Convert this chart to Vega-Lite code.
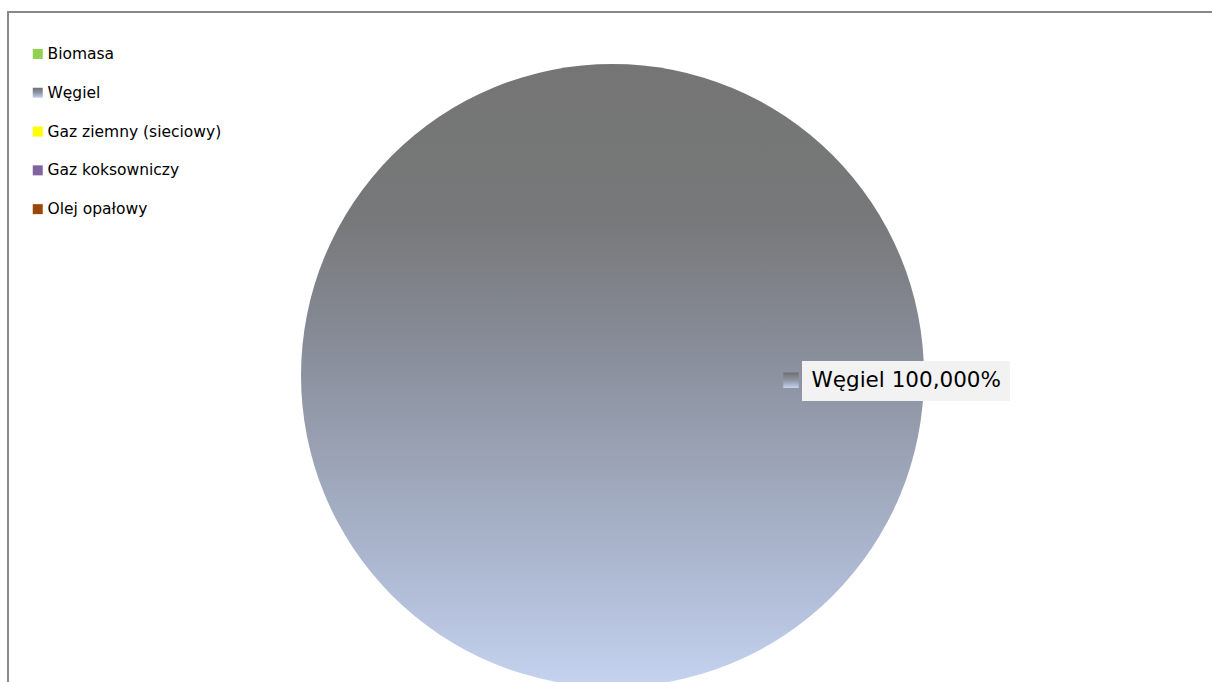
{
  "$schema": "https://vega.github.io/schema/vega-lite/v6.json",
  "autosize": {"type": "fit", "contains": "padding"},
  "width": 1212,
  "height": 682,
  "padding": {"left": 7, "top": 11, "right": -6, "bottom": -58},
  "background": "#ffffff",
  "config": {
    "view": {"stroke": null},
    "font": "DejaVu Sans"
  },
  "data": {
    "values": [
      {"paliwo": "Biomasa", "udzial": 0},
      {"paliwo": "Węgiel", "udzial": 100, "etykieta": "Węgiel 100,000%"},
      {"paliwo": "Gaz ziemny (sieciowy)", "udzial": 0},
      {"paliwo": "Gaz koksowniczy", "udzial": 0},
      {"paliwo": "Olej opałowy", "udzial": 0}
    ]
  },
  "layer": [
    {
      "transform": [{"filter": "datum.udzial > 0"}],
      "mark": {"type": "rect", "fill": null, "stroke": "#888888", "strokeWidth": 2},
      "encoding": {}
    },
    {
      "mark": {"type": "arc", "outerRadius": 311.5, "strokeWidth": 0},
      "encoding": {
        "theta": {"field": "udzial", "type": "quantitative", "stack": true},
        "fill": {
          "field": "paliwo",
          "type": "nominal",
          "sort": null,
          "condition": {
            "test": "datum.paliwo === 'Węgiel'",
            "value": {"gradient": "linear", "x1": 0, "y1": 0, "x2": 0, "y2": 1, "stops": [
              {"offset": 0, "color": "#757575"},
              {"offset": 0.25, "color": "#777879"},
              {"offset": 0.45, "color": "#878c98"},
              {"offset": 0.6, "color": "#979fb0"},
              {"offset": 0.8, "color": "#acb7d0"},
              {"offset": 1, "color": "#c5d3f0"}
            ]}
          },
          "scale": {
            "domain": ["Biomasa", "Węgiel", "Gaz ziemny (sieciowy)", "Gaz koksowniczy", "Olej opałowy"],
            "range": ["#92d050", "#8a8f9a", "#ffff00", "#8064a2", "#984807"]
          },
          "legend": null
        }
      }
    },
    {
      "mark": {"type": "point", "filled": true, "size": 0},
      "encoding": {
        "shape": {
          "field": "paliwo",
          "type": "nominal",
          "sort": null,
          "scale": {"range": ["square"]},
          "legend": {
            "title": null,
            "orient": "none",
            "legendX": 22,
            "legendY": 34.2,
            "padding": 0,
            "symbolType": "square",
            "symbolSize": 100,
            "symbolStrokeWidth": 0,
            "symbolOpacity": 1,
            "labelFont": "DejaVu Sans",
            "labelFontSize": 15.5,
            "labelColor": "#000000",
            "labelOffset": 2,
            "rowPadding": 21.8,
            "labelLimit": 400,
            "encoding": {
              "symbols": {
                "fill": {"value": {"expr": "datum.value === 'Węgiel' ? {gradient: 'linear', x1: 0, y1: 0, x2: 0, y2: 1, stops: [{offset: 0, color: '#6f6f6f'}, {offset: 0.5, color: '#8e95a3'}, {offset: 1, color: '#c5d3f0'}]} : datum.value === 'Biomasa' ? '#92d050' : datum.value === 'Gaz ziemny (sieciowy)' ? '#ffff00' : datum.value === 'Gaz koksowniczy' ? '#8064a2' : '#984807'"}}
              }
            }
          }
        }
      }
    },
    {
      "transform": [{"filter": "datum.udzial > 0"}],
      "mark": {"type": "point", "filled": true, "size": 0},
      "encoding": {
        "stroke": {
          "field": "paliwo",
          "type": "nominal",
          "legend": {
            "title": null,
            "orient": "none",
            "legendX": 775,
            "legendY": 360.25,
            "padding": 0,
            "symbolType": "square",
            "symbolSize": 240,
            "symbolStrokeWidth": 0,
            "symbolOpacity": 1,
            "labelExpr": "''",
            "labelFontSize": 1,
            "labelOffset": 0,
            "encoding": {
              "symbols": {
                "fill": {"value": {"expr": "{gradient: 'linear', x1: 0, y1: 0, x2: 0, y2: 1, stops: [{offset: 0, color: '#6f6f6f'}, {offset: 0.5, color: '#8e95a3'}, {offset: 1, color: '#c5d3f0'}]}"}}
              }
            }
          }
        },
        "strokeDash": {
          "field": "etykieta",
          "type": "nominal",
          "legend": {
            "title": null,
            "orient": "none",
            "legendX": 794,
            "legendY": 349,
            "padding": 9,
            "fillColor": "#f2f2f2",
            "symbolType": "square",
            "symbolSize": 0,
            "symbolOpacity": 0,
            "symbolStrokeWidth": 0,
            "labelFont": "DejaVu Sans",
            "labelFontSize": 21.5,
            "labelColor": "#000000",
            "labelOffset": -21,
            "labelLimit": 400
          }
        }
      }
    }
  ]
}
